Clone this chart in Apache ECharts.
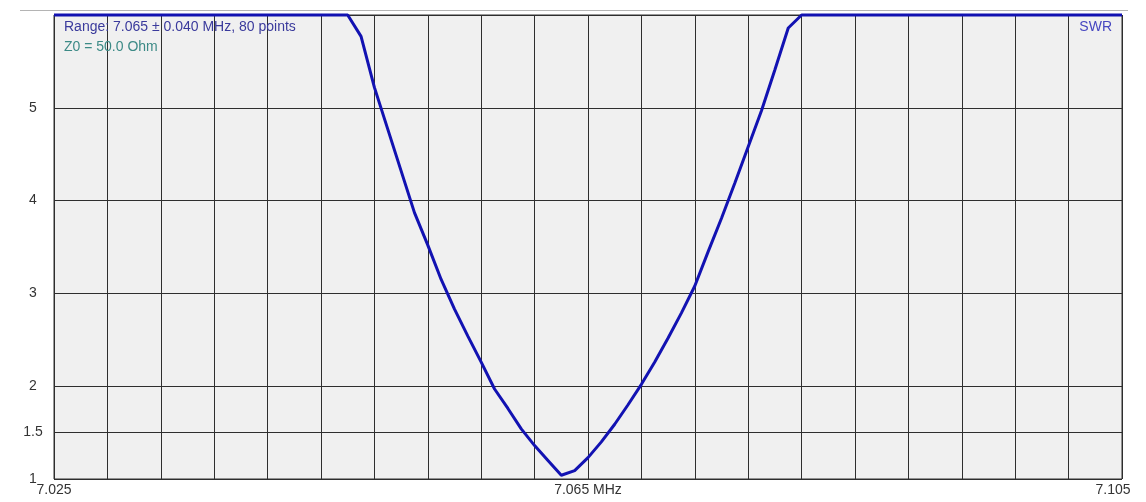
<!DOCTYPE html>
<html>
<head>
<meta charset="utf-8">
<style>
  html, body { margin: 0; padding: 0; background: #fff; }
  #main { width: 1146px; height: 502px; }
</style>
<script src="https://cdn.jsdelivr.net/npm/echarts@6/dist/echarts.min.js"></script>
</head>
<body>
<div id="main"></div>
<script>
// frequency points (MHz), 7.025 .. 7.105 in 1 kHz steps
const freqs = [];
for (let i = 0; i <= 80; i++) freqs.push((7.025 + i * 0.001).toFixed(3));

// SWR (clipped at 6 on the plot)
const swrLeft = [6, 6, 6, 6, 6, 6, 6, 6, 6, 6, 6, 6, 6, 6, 6, 6, 6, 6, 6, 6, 6, 6, 6];
const swrDip = [5.77, 5.22, 4.77, 4.32, 3.87, 3.52, 3.15, 2.83, 2.54, 2.26,
  1.97, 1.76, 1.54, 1.36, 1.20, 1.04, 1.09, 1.23, 1.40, 1.59,
  1.80, 2.02, 2.26, 2.52, 2.79, 3.08, 3.45, 3.81, 4.19, 4.58,
  4.97, 5.41, 5.86];
const swrRight = [6, 6, 6, 6, 6, 6, 6, 6, 6, 6, 6, 6, 6, 6, 6, 6, 6, 6, 6, 6, 6, 6, 6, 6, 6];
const swr = swrLeft.concat(swrDip, swrRight);

const yTicks = [1, 1.5, 2, 3, 4, 5, 6];
const yLabels = [1, 1.5, 2, 3, 4, 5];
const xLabelIdx = [0, 40, 80];

const chart = echarts.init(document.getElementById('main'));

let option = {
  animation: false,
  backgroundColor: '#ffffff',
  textStyle: { fontFamily: 'Liberation Sans, Arial, sans-serif' },
  grid: {
    left: 54, right: 24, top: 15, bottom: 23,
    show: true,
    backgroundColor: '#f0f0f0',
    borderColor: '#333',
    borderWidth: 1
  },
  xAxis: {
    type: 'category',
    data: freqs,
    boundaryGap: false,
    axisLine: { show: false },
    axisTick: { show: false },
    splitLine: {
      show: true,
      interval: function (idx) { return idx % 4 === 0; },
      lineStyle: { color: '#2e2e2e', width: 1 }
    },
    axisLabel: {
      interval: function (idx) { return xLabelIdx.indexOf(idx) >= 0; },
      margin: 4,
      fontSize: 14,
      color: '#333',
      formatter: function (v, idx) {
        if (idx === 40) return v + ' MHz';
        if (idx === 80) return '{r|' + v + '}';
        return v;
      },
      rich: {
        r: { fontSize: 14, color: '#333', padding: [0, 18, 0, 0] }
      }
    }
  },
  yAxis: {
    type: 'value',
    min: 1,
    max: 6,
    axisLine: { show: false },
    axisTick: { show: false, customValues: yTicks },
    splitLine: { show: true, lineStyle: { color: '#2e2e2e', width: 1 } },
    axisLabel: {
      customValues: yLabels,
      align: 'center',
      margin: 21,
      fontSize: 14,
      color: '#333'
    }
  },
  graphic: [
    {
      type: 'line',
      shape: { x1: 20, y1: 10.5, x2: 1128, y2: 10.5 },
      style: { stroke: '#b4b4b4', lineWidth: 1 },
      z: 0
    },
    {
      type: 'text', left: 64, top: 20, z: 10,
      style: { text: 'Range: 7.065 ± 0.040 MHz, 80 points', fill: '#3a3a9c', font: '14px Liberation Sans, Arial, sans-serif' }
    },
    {
      type: 'text', left: 64, top: 40, z: 10,
      style: { text: 'Z0 = 50.0 Ohm', fill: '#3c8a86', font: '14px Liberation Sans, Arial, sans-serif' }
    },
    {
      type: 'text', right: 34, top: 20, z: 10,
      style: { text: 'SWR', fill: '#4646c0', font: '14px Liberation Sans, Arial, sans-serif' }
    }
  ],
  series: [
    {
      name: 'SWR',
      type: 'line',
      data: swr,
      showSymbol: false,
      clip: false,
      lineStyle: { color: '#1212b2', width: 3 },
      z: 5
    }
  ]
};
chart.setOption(option);
</script>
</body>
</html>
